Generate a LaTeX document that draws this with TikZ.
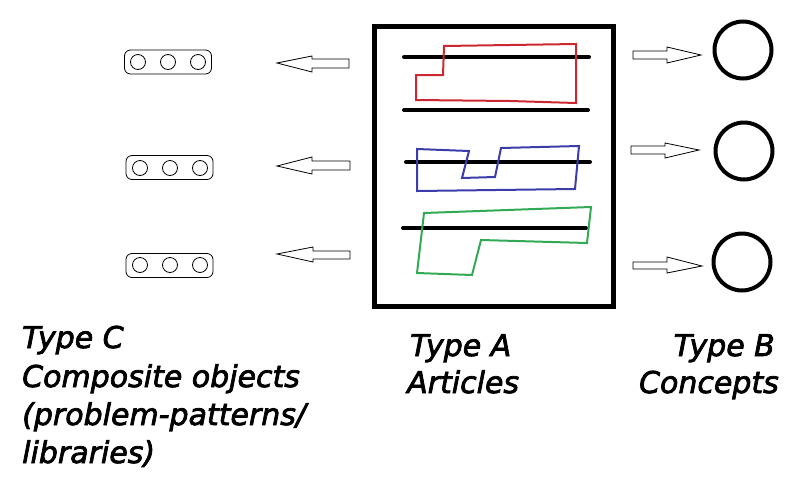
\documentclass[tikz,border=0pt]{standalone}
\usepackage{fontspec}
\newfontface\lblfont{DejaVu Sans Oblique}[FakeBold=2.5]
\definecolor{pred}{RGB}{205,40,50}
\definecolor{pblue}{RGB}{60,60,170}
\definecolor{pgreen}{RGB}{50,170,85}
\tikzset{
  lbl/.style={anchor=base west, inner sep=0pt, font=\lblfont\fontsize{30}{38}\selectfont},
  lblr/.style={anchor=base east, inner sep=0pt, font=\lblfont\fontsize{30}{38}\selectfont},
  rulestroke/.style={line width=4pt, line cap=round},
  outline/.style={line width=2pt, line join=miter},
  concept/.style={circle, draw, line width=4pt, minimum size=57pt, inner sep=0pt},
  comp/.style={draw, rounded corners=6pt, line width=0.8pt, minimum width=87pt, minimum height=24pt, inner sep=0pt},
  dot/.style={circle, draw, line width=0.8pt, minimum size=15pt, inner sep=0pt},
  blockarrow/.style={draw, line width=0.8pt, fill=white, line join=miter},
}
\begin{document}
\begin{tikzpicture}[x=1pt,y=-1pt]
\useasboundingbox (0,0) rectangle (812,496);
% main article box
\node[draw, line width=5pt, minimum width=239pt, minimum height=280pt, inner sep=0pt] (art) at (493.5,166) {};
% black rules
\coordinate (r1a) at (404,57); \coordinate (r1b) at (589,57);
\coordinate (r2a) at (404,110); \coordinate (r2b) at (588,110);
\coordinate (r3a) at (406,162); \coordinate (r3b) at (590,162);
\coordinate (r4a) at (403,228); \coordinate (r4b) at (586,228);
\draw[rulestroke] (r1a) -- (r1b);
\draw[rulestroke] (r2a) -- (r2b);
\draw[rulestroke] (r3a) -- (r3b);
\draw[rulestroke] (r4a) -- (r4b);
% coloured outlines
\draw[outline, pred] (444,46) -- (576,44) -- (576,103) -- (510,101) -- (416,100) -- (416,75) -- (443,75) -- cycle;
\draw[outline, pblue] (417,149) -- (469,151) -- (462,178) -- (495,177) -- (501,148) -- (579,146) -- (575,189) -- (417,191) -- cycle;
\draw[outline, pgreen] (424,213) -- (591,207) -- (587,243) -- (481,240) -- (472,275) -- (417,273) -- cycle;
% concepts
\node[concept] (b1) at (743,50) {};
\node[concept] (b2) at (744,151) {};
\node[concept] (b3) at (742,262) {};
% composite objects
\node[comp] (c1) at (168,62) {};
\node[dot] (c1a) at (138,62) {}; \node[dot] (c1b) at (168,62) {}; \node[dot] (c1c) at (198,62) {};
\node[comp] (c2) at (169.5,167.5) {};
\node[dot] (c2a) at (140,168) {}; \node[dot] (c2b) at (170,168) {}; \node[dot] (c2c) at (200,168) {};
\node[comp] (c3) at (169.5,265.5) {};
\node[dot] (c3a) at (140,265) {}; \node[dot] (c3b) at (170,265) {}; \node[dot] (c3c) at (200,265) {};
% left block arrows
\draw[blockarrow] (277,63) -- (312,56) -- (312,59) -- (349,59) -- (349,68) -- (312,68) -- (312,72) -- cycle;
\draw[blockarrow] (277,166) -- (312,157) -- (312,161) -- (350,161) -- (350,170) -- (312,170) -- (312,174) -- cycle;
\draw[blockarrow] (277,254) -- (313,247) -- (313,251) -- (350,251) -- (350,259) -- (313,259) -- (313,262) -- cycle;
% right block arrows
\draw[blockarrow] (701,55) -- (667,47) -- (667,51) -- (633,51) -- (633,59) -- (667,59) -- (667,63) -- cycle;
\draw[blockarrow] (699,150) -- (665,143) -- (665,146) -- (631,146) -- (631,154) -- (665,154) -- (665,158) -- cycle;
\draw[blockarrow] (702,266) -- (667,257) -- (667,262) -- (633,262) -- (633,269) -- (667,269) -- (667,273) -- cycle;
% labels
\node[lbl] (tc1) at (22,348) {Type C};
\node[lbl] (tc2) at (22,387) {Composite objects};
\node[lbl] (tc3) at (22,425) {(problem-patterns/};
\node[lbl] (tc4) at (22,463) {libraries)};
\node[lbl] (ta1) at (410,356) {Type A};
\node[lbl] (ta2) at (407,393) {Articles};
\node[lblr] (tb1) at (775,356) {Type B};
\node[lblr] (tb2) at (779,393) {Concepts};
\end{tikzpicture}
\end{document}
